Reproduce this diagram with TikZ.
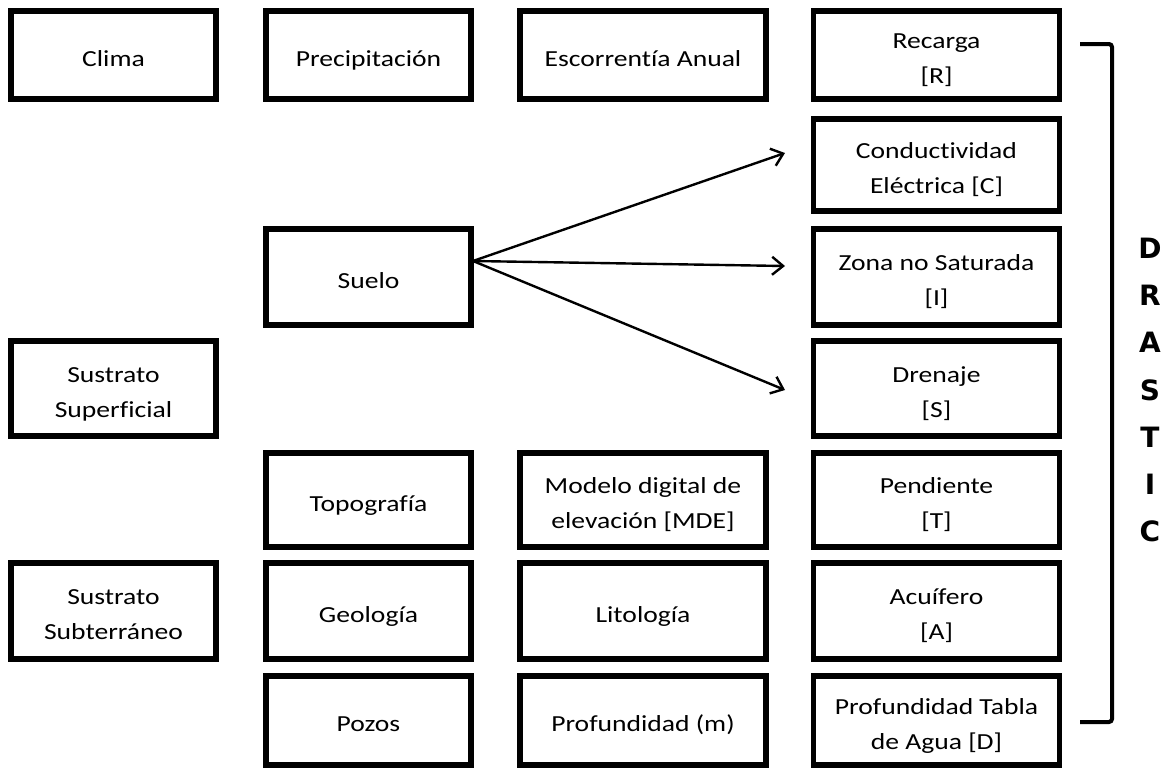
\documentclass[tikz,border=0pt]{standalone}
\usepackage{fontspec}
\setmainfont{Carlito}[FakeStretch=1.2,Ligatures=NoCommon]
\newfontfamily\drasticfont{DejaVu Sans}
\usetikzlibrary{arrows.meta}
\newcommand{\tx}[1]{\raisebox{-4pt}[\height][\depth]{\begin{tabular}{@{}c@{}}#1\end{tabular}}}
\begin{document}
\begin{tikzpicture}[x=1pt,y=-1pt,
  box/.style={draw, line width=5.5pt, align=center, inner sep=0pt,
    font=\fontsize{23}{35}\selectfont},
  w1/.style={minimum width=205pt},
  w3/.style={minimum width=246pt},
  h/.style={minimum height=#1pt},
  arr/.style={line width=2.4pt, -{Straight Barb[length=11pt,width=18pt,line width=2.4pt]}},
  brk/.style={line width=4pt, rounded corners=3pt}]
\useasboundingbox (0,0) rectangle (1168,769);
% row 1
\node[box,w1,h=88] (clima) at (113.5,55) {\tx{Clima}};
\node[box,w1,h=88] (prec) at (368.5,55) {\tx{Precipitación}};
\node[box,w3,h=88] (esc) at (643,55) {\tx{Escorrentía Anual}};
\node[box,w3,h=88] (rec) at (936.5,55) {\tx{Recarga\\{}[R]}};
% row 2
\node[box,w3,h=92] (cond) at (936.5,165) {\tx{Conductividad\\Eléctrica [C]}};
% row 3
\node[box,w1,h=96] (suelo) at (368.5,277) {\tx{Suelo}};
\node[box,w3,h=96] (zona) at (936.5,277) {\tx{Zona no Saturada\\{}[I]}};
% row 4
\node[box,w1,h=95] (ssup) at (113.5,388.5) {\tx{Sustrato\\Superficial}};
\node[box,w3,h=95] (dren) at (936.5,388.5) {\tx{Drenaje\\{}[S]}};
% row 5
\node[box,w1,h=94] (topo) at (368.5,500) {\tx{Topografía}};
\node[box,w3,h=94] (mde) at (643,500) {\tx{Modelo digital de\\elevación [MDE]}};
\node[box,w3,h=94] (pend) at (936.5,500) {\tx{Pendiente\\{}[T]}};
% row 6
\node[box,w1,h=96] (ssub) at (113.5,611) {\tx{Sustrato\\Subterráneo}};
\node[box,w1,h=96] (geo) at (368.5,611) {\tx{Geología}};
\node[box,w3,h=96] (lito) at (643,611) {\tx{Litología}};
\node[box,w3,h=96] (acu) at (936.5,611) {\tx{Acuífero\\{}[A]}};
% row 7
\node[box,w1,h=89] (pozos) at (368.5,720.5) {\tx{Pozos}};
\node[box,w3,h=89] (prof) at (643,720.5) {\tx{Profundidad (m)}};
\node[box,w3,h=89] (tabla) at (936.5,720.5) {\tx{Profundidad Tabla\\de Agua [D]}};
% arrows
\coordinate (s0) at (473,261);
\coordinate (t1) at (785,153);
\coordinate (t2) at (785,266);
\coordinate (t3) at (785,390);
\draw[arr] (s0) -- (t1);
\draw[arr] (s0) -- (t2);
\draw[arr] (s0) -- (t3);
% bracket
\coordinate (b1) at (1080,44);
\coordinate (b2) at (1080,722);
\draw[brk] (b1) -- (1112,44) -- (1112,722) -- (b2);
\node[align=center, inner sep=0pt, font=\drasticfont\bfseries\fontsize{28}{47.3}\selectfont] (drastic) at (1150,390) {D\\R\\A\\S\\T\\I\\C};
\end{tikzpicture}
\end{document}
